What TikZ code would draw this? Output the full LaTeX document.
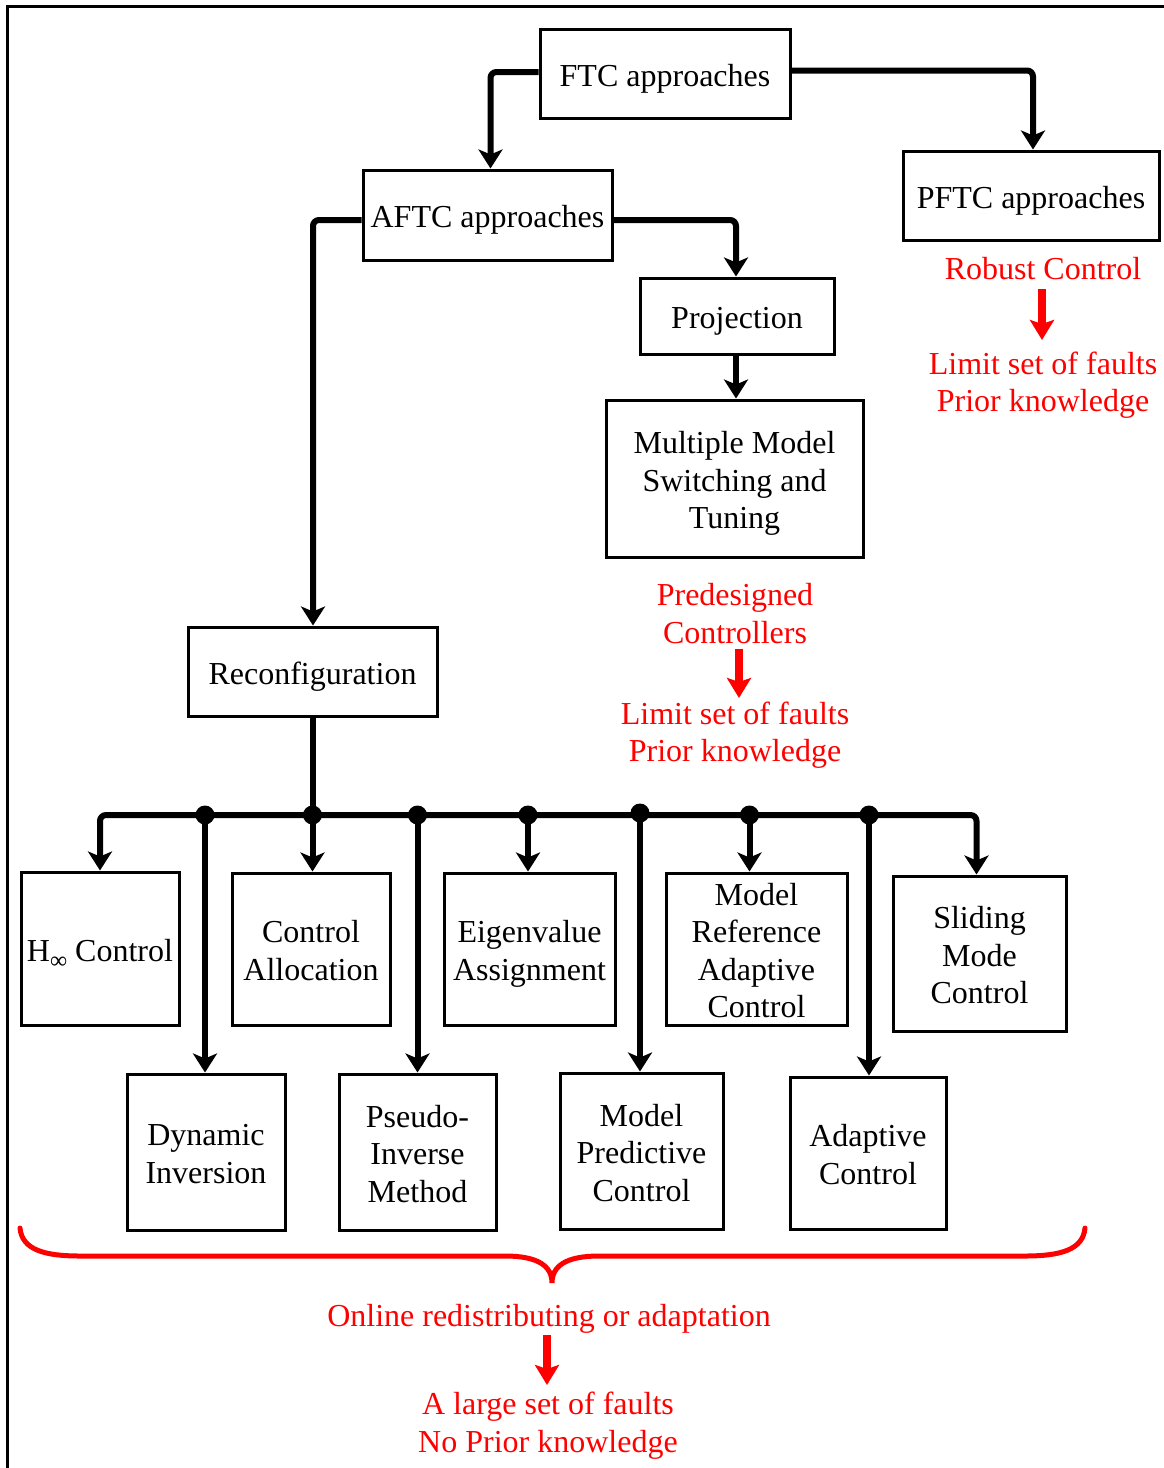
\documentclass[tikz,border=0pt]{standalone}
\usepackage{fontspec}
\setmainfont{Liberation Serif}
\usetikzlibrary{arrows.meta,calc}

% stacked, centred lines, set 5pt below the box centre without changing the box size
\newcommand{\boxtext}[1]{\vbox{\kern5pt\hbox{\begin{tabular}{@{}c@{}}#1\end{tabular}}\kern-5pt}}

\begin{document}
\begin{tikzpicture}[x=1pt,y=-1pt,
  every node/.style={font=\fontsize{32}{37.5}\selectfont},
  box/.style={draw, line width=3pt, inner sep=0pt},
  conn/.style={line width=6pt, rounded corners=6pt,
    -{Stealth[length=19pt,width=24pt,inset=5pt]}},
  note/.style={text=red, align=center, inner sep=0pt},
  redarrow/.style={red, line width=8pt,
    -{Stealth[length=20pt,width=24pt,inset=4pt]}},
  brace/.style={red, line width=5pt, line cap=round},
  dot/.style={circle, fill=black, inner sep=0pt, minimum size=19pt},
  frame/.style={line width=3pt}
]
\useasboundingbox (0,0) rectangle (1163,1468);

% open frame: top and left edges
\draw[frame] (7.5,1475) -- (7.5,6.5) -- (1170,6.5);

% top level
\node[box, minimum width=250, minimum height=89] (ftc)  at (665,73.5)  {\boxtext{FTC approaches}};
\node[box, minimum width=249, minimum height=90] (aftc) at (487.5,215) {\boxtext{AFTC approaches}};
\node[box, minimum width=256, minimum height=89] (pftc) at (1031,195.5) {\boxtext{PFTC approaches}};

% projection branch
\node[box, minimum width=194, minimum height=76]  (proj) at (737,316)   {\boxtext{Projection}};
\node[box, minimum width=257, minimum height=157] (mmst) at (734.5,478.5) {\boxtext{Multiple Model\\Switching and\\Tuning}};

% reconfiguration branch
\node[box, minimum width=249, minimum height=89] (reconf) at (312.5,671.5) {\boxtext{Reconfiguration}};

% first row of methods
\node[box, minimum width=158, minimum height=153] (hinf) at (100,948.5)  {\boxtext{H\raisebox{-7pt}{\fontsize{24}{24}\selectfont ∞} Control}};
\node[box, minimum width=158, minimum height=152] (ca)   at (311,949)    {\boxtext{Control\\Allocation}};
\node[box, minimum width=171, minimum height=152] (ea)   at (529.5,949)  {\boxtext{Eigenvalue\\Assignment}};
\node[box, minimum width=181, minimum height=152] (mrac) at (756.5,949)  {\boxtext{Model\\Reference\\Adaptive\\Control}};
\node[box, minimum width=173, minimum height=155] (smc)  at (979.5,953.5) {\boxtext{Sliding\\Mode\\Control}};

% second row of methods
\node[box, minimum width=158, minimum height=156] (di)  at (206,1152)   {\boxtext{Dynamic\\Inversion}};
\node[box, minimum width=157, minimum height=156] (pim) at (417.5,1152) {\boxtext{Pseudo-\\Inverse\\Method}};
\node[box, minimum width=163, minimum height=156] (mpc) at (641.5,1151) {\boxtext{Model\\Predictive\\Control}};
\node[box, minimum width=156, minimum height=152] (ac)  at (868,1153)   {\boxtext{Adaptive\\Control}};

% tree connectors
\draw[conn] ([yshift=1.5pt]ftc.west) -| ([xshift=3pt]aftc.north);
\draw[conn] ([yshift=3pt]ftc.east) -| ([xshift=2pt]pftc.north);
\draw[conn] ([yshift=-5pt]aftc.east) -| ([xshift=-1pt]proj.north);
\draw[conn] ([xshift=-1pt]proj.south) -- ([xshift=-1pt]proj.south |- mmst.north);
\draw[conn] ([yshift=-5pt]aftc.west) -| ([xshift=0.5pt]reconf.north);

% distribution bus below Reconfiguration
\coordinate (bus) at (312.5,815);
\draw[line width=6pt] (reconf.south) -- (bus);
\draw[conn] (bus) -| (hinf.north);
\draw[conn] (bus) -| ([xshift=-3pt]smc.north);
\draw[conn] (bus) -- (ca.north -| bus);
\draw[conn] ([xshift=-1.5pt]ea.north |- bus) -- ([xshift=-1.5pt]ea.north);
\draw[conn] ([xshift=-7pt]mrac.north |- bus) -- ([xshift=-7pt]mrac.north);
\draw[conn] ([xshift=-1pt]di.north |- bus) -- ([xshift=-1pt]di.north);
\draw[conn] (pim.north |- bus) -- (pim.north);
\draw[conn] ([xshift=-1.5pt]mpc.north |- bus) -- ([xshift=-1.5pt]mpc.north);
\draw[conn] ([xshift=1pt]ac.north |- bus) -- ([xshift=1pt]ac.north);

% junction dots
\node[dot] (j1) at (205,815) {};
\node[dot] (j2) at (bus) {};
\node[dot] (j3) at (417.5,815) {};
\node[dot] (j4) at (528,815) {};
\node[dot] (j5) at (640,813) {};
\node[dot] (j6) at (749.5,815) {};
\node[dot] (j7) at (869,815) {};

% notes on passive FTC
\node[note] (rc)   at (1043,268.5) {Robust Control};
\node[note] (lim1) at (1043,385)   {Limit set of faults\\Prior knowledge};
\draw[redarrow] ($(rc.center)+(-1,20.5)$) -- ($(lim1.center)+(-1,-45)$);

% notes on projection
\node[note] (pre)  at (735,613.5) {Predesigned\\Controllers};
\node[note] (lim2) at (735,735)   {Limit set of faults\\Prior knowledge};
\draw[redarrow] ($(pre.center)+(4,35)$) -- ($(lim2.center)+(4,-37)$);

% brace under the reconfiguration methods
\coordinate (bl) at (20,1228);
\coordinate (br) at (1085,1228);
\coordinate (tip) at (552,1283);
\draw[brace] (bl) .. controls (22,1250) and (45,1256) .. (80,1256)
  -- (505,1256) .. controls (538,1256) and (552,1266) .. (tip)
  .. controls (552,1266) and (566,1256) .. (599,1256)
  -- (1025,1256) .. controls (1060,1256) and (1083,1250) .. (br);

% notes on reconfiguration
\node[note] (onl) at (549,1318.5)  {Online redistributing or adaptation};
\node[note] (big) at (548,1425.5)  {A large set of faults\\No Prior knowledge};
\draw[redarrow] ($(onl.center)+(-2,16.5)$) -- ($(big.center)+(-1,-40.5)$);
\end{tikzpicture}
\end{document}
